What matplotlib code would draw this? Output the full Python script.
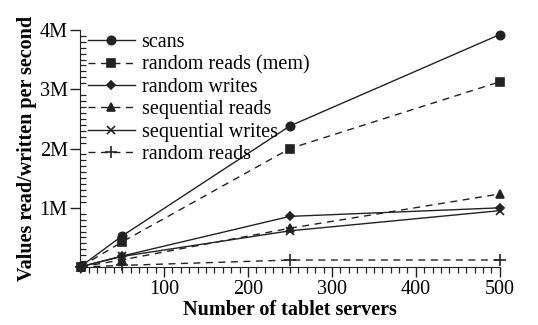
import matplotlib.pyplot as plt
from matplotlib.ticker import MultipleLocator, FixedLocator, FixedFormatter

plt.rcParams['font.family'] = ['Liberation Serif', 'DejaVu Serif']

servers = [1, 50, 250, 500]
scans = [15385, 526300, 2381000, 3921500]
random_reads_mem = [10811, 425550, 2000000, 3125000]
random_writes = [8850, 187250, 856250, 1000000]
sequential_reads = [4425, 123150, 656250, 1234500]
sequential_writes = [8547, 181150, 612750, 952500]
random_reads = [1212, 29650, 119750, 120500]

x_ticks = [100, 200, 300, 400, 500]
y_ticks = [1000000, 2000000, 3000000, 4000000]
y_labels = ['1M', '2M', '3M', '4M']

series = [
    ('scans', scans, '-', 'o', 6),
    ('random reads (mem)', random_reads_mem, '--', 's', 6),
    ('random writes', random_writes, '-', 'D', 4.5),
    ('sequential reads', sequential_reads, '--', '^', 6),
    ('sequential writes', sequential_writes, '-', 'x', 6),
    ('random reads', random_reads, '--', '+', 8),
]

fig = plt.figure(figsize=(5.38, 3.25), dpi=100)
ax = fig.add_axes([0.149, 0.178, 0.78, 0.73])

ink = '#222222'
fs = 14.5
for label, vals, ls, mk, ms in series:
    ax.plot(servers, vals, linestyle=ls, marker=mk, markersize=ms, color=ink,
            linewidth=1.0, markeredgewidth=1.2, label=label, clip_on=False,
            dashes=(5, 4) if ls == '--' else (None, None))

ax.set_xlim(0, 500)
ax.set_ylim(0, 4000000)

ax.xaxis.set_major_locator(FixedLocator(x_ticks))
ax.xaxis.set_minor_locator(MultipleLocator(10))
ax.yaxis.set_major_locator(FixedLocator(y_ticks))
ax.yaxis.set_major_formatter(FixedFormatter(y_labels))
ax.yaxis.set_minor_locator(MultipleLocator(100000))

ax.spines['top'].set_visible(False)
ax.spines['right'].set_visible(False)
for s in ('left', 'bottom'):
    ax.spines[s].set_color(ink)

ax.tick_params(axis='both', which='major', labelsize=fs, length=7, width=1.0,
               color=ink, direction='out', pad=2)
ax.tick_params(axis='y', which='minor', length=4, width=0.9, color=ink, direction='in')
ax.tick_params(axis='x', which='minor', length=4, width=0.9, color=ink, direction='out')

ax.set_xlabel('Number of tablet servers', fontsize=fs, fontweight='bold', labelpad=1)
ax.set_ylabel('Values read/written per second', fontsize=fs, fontweight='bold', labelpad=2)

ax.legend(loc='upper left', bbox_to_anchor=(0.0, 1.02), frameon=False, fontsize=fs,
          handlelength=2.3, labelspacing=0.16, handletextpad=0.35, borderaxespad=0.0)

fig.savefig('out.png', dpi=100)
